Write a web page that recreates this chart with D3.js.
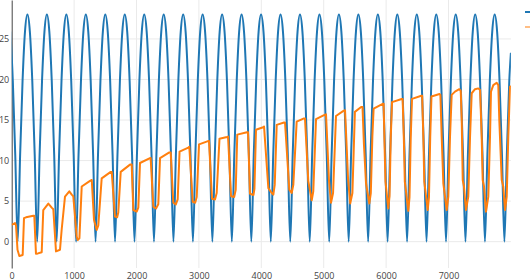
<!doctype html>
<head>
<meta charset="utf-8">
<script src="https://cdn.jsdelivr.net/npm/d3@7/dist/d3.min.js" charset="utf-8"></script>
<style>
body { margin: 0; background: #fff; overflow: hidden; }
text { font-family: "Open Sans", sans-serif; font-size: 9px; fill: #444; }
</style>
</head>
<body>
<script>

// blue series: sampled every 39 steps starting at x = -21 (clipped at 0)
var blueStart = -21, blueStep = 39;
var blueVals = [
  25.9, 19.8, 10.7, 0,
  10.7, 19.8, 25.9, 28, 25.9, 19.8, 10.7, 0,
  10.7, 19.8, 25.9, 28, 25.9, 19.8, 10.7, 0,
  10.7, 19.8, 25.9, 28, 25.9, 19.8, 10.7, 0,
  10.7, 19.8, 25.9, 28, 25.9, 19.8, 10.7, 0,
  10.7, 19.8, 25.9, 28, 25.9, 19.8, 10.7, 0,
  10.7, 19.8, 25.9, 28, 25.9, 19.8, 10.7, 0,
  10.7, 19.8, 25.9, 28, 25.9, 19.8, 10.7, 0,
  10.7, 19.8, 25.9, 28, 25.9, 19.8, 10.7, 0,
  10.7, 19.8, 25.9, 28, 25.9, 19.8, 10.7, 0,
  10.7, 19.8, 25.9, 28, 25.9, 19.8, 10.7, 0,
  10.7, 19.8, 25.9, 28, 25.9, 19.8, 10.7, 0,
  10.7, 19.8, 25.9, 28, 25.9, 19.8, 10.7, 0,
  10.7, 19.8, 25.9, 28, 25.9, 19.8, 10.7, 0,
  10.7, 19.8, 25.9, 28, 25.9, 19.8, 10.7, 0,
  10.7, 19.8, 25.9, 28, 25.9, 19.8, 10.7, 0,
  10.7, 19.8, 25.9, 28, 25.9, 19.8, 10.7, 0,
  10.7, 19.8, 25.9, 28, 25.9, 19.8, 10.7, 0,
  10.7, 19.8, 25.9, 28, 25.9, 19.8, 10.7, 0,
  10.7, 19.8, 25.9, 28, 25.9, 19.8, 10.7, 0,
  10.7, 19.8, 25.9, 28, 25.9, 19.8, 10.7, 0,
  10.7, 19.8, 25.9, 28, 25.9, 19.8, 10.7, 0,
  10.7, 19.8, 25.9, 28, 25.9, 19.8, 10.7, 0,
  10.7, 19.8, 25.9, 28, 25.9, 19.8, 10.7, 0,
  10.7, 19.8, 25.9, 28, 25.9, 19.8, 10.7, 0,
  10.7, 19.8, 25.9, 28, 25.9, 19.8, 10.7, 0,
  10.7, 19.8, 23.3
];

// orange series: [x, y]
var orange = [
  [0, 2.06], [53, 2.3], [69, 2.0], [93, -1.0], [122, -1.76], [150, -1.7], [176, -1.64], [197, 2.9], [230, 3.0], [346, 3.2], [362, 3.2],
  [389, -1.5], [420, -1.45], [481, -1.3], [506, 3.9], [587, 4.7], [641, 4.2],
  [667, 4.0], [710, -1.2], [774, -1.0], [801, 1.5], [854, 5.55], [923, 6.2], [962, 5.8],
  [987, 5.6], [1042, 0.6], [1058, 0.2], [1085, 0.4], [1122, 6.8], [1255, 7.5],
  [1283, 7.6], [1319, 2.7], [1362, 1.44], [1388, 2.0], [1442, 7.8], [1587, 8.6],
  [1603, 8.6], [1655, 3.1], [1690, 3.0], [1708, 3.6], [1747, 8.6], [1896, 9.5],
  [1923, 9.5], [1949, 3.9], [2003, 3.7], [2029, 4.2], [2056, 9.7], [2216, 10.3],
  [2227, 10.3], [2270, 4.3], [2313, 4.1], [2349, 4.6], [2377, 10.3], [2526, 11.0],
  [2548, 11.0], [2590, 4.8], [2630, 4.6], [2660, 5.2], [2690, 11.1], [2830, 11.6],
  [2846, 11.7], [2901, 4.9], [2940, 4.8], [2965, 5.5], [3002, 12.0], [3146, 12.4],
  [3162, 12.4], [3210, 5.3], [3258, 5.2], [3285, 6.0], [3330, 12.7], [3450, 12.9],
  [3467, 12.95], [3515, 5.6], [3565, 5.5], [3590, 6.4], [3615, 13.2], [3770, 13.5],
  [3787, 13.5], [3819, 5.9], [3875, 5.76], [3890, 6.5], [3915, 13.8], [4030, 14.1],
  [4044, 14.2], [4113, 6.6], [4167, 6.0], [4193, 5.8], [4215, 7.0], [4247, 14.4], [4364, 14.7],
  [4380, 14.7], [4449, 6.4], [4487, 6.0], [4513, 7.0], [4567, 14.8], [4684, 15.2],
  [4700, 15.2], [4753, 7.5], [4808, 5.1], [4833, 6.2], [4877, 15.1], [5005, 15.6],
  [5037, 15.7], [5085, 7.5], [5117, 4.8], [5150, 6.0], [5197, 15.5], [5310, 16.1],
  [5342, 16.2], [5390, 7.8], [5425, 4.7], [5460, 6.0], [5500, 16.0], [5600, 16.6],
  [5622, 16.6], [5645, 12.0], [5678, 7.2], [5731, 4.7], [5755, 6.0], [5780, 13.0], [5800, 16.4], [5946, 17.0],
  [5960, 17.0], [5975, 12.0], [5990, 7.4], [6035, 4.1], [6055, 5.6], [6075, 12.9], [6095, 17.2], [6250, 17.6],
  [6265, 17.6], [6285, 12.5], [6300, 7.4], [6356, 3.8], [6375, 5.5], [6395, 12.9], [6415, 17.6], [6565, 18.0],
  [6578, 18.0], [6598, 12.5], [6612, 7.4], [6667, 3.9], [6687, 5.5], [6707, 12.9], [6727, 17.9], [6856, 18.2],
  [6870, 18.1], [6891, 12.9], [6917, 7.2], [6944, 5.55], [6971, 3.9], [6997, 5.55], [7024, 12.9], [7051, 18.1], [7104, 18.5], [7173, 18.8], [7196, 18.6],
  [7212, 15.0], [7228, 7.6], [7248, 6.8], [7280, 3.9], [7317, 5.55], [7345, 12.9], [7372, 18.3], [7425, 18.8], [7478, 18.9], [7506, 18.7],
  [7532, 12.9], [7548, 7.6], [7569, 6.8], [7601, 3.7], [7638, 5.55], [7665, 12.9], [7681, 18.5], [7718, 19.3], [7772, 19.6], [7798, 19.3],
  [7814, 15.0], [7853, 7.6], [7878, 6.8], [7906, 3.9], [7933, 5.55], [7958, 12.9], [7986, 19.1], [8000, 19.2]
];

var xTicks = [0, 1000, 2000, 3000, 4000, 5000, 6000, 7000];
var yTicks = [0, 5, 10, 15, 20, 25];
var seriesColors = ["#1f77b4", "#ff7f0e"];

var W = 530, H = 280;
var plot = {left: 11.7, right: 510.9, top: 0, bottom: 268};

var x = d3.scaleLinear().domain([0, 8000]).range([plot.left, plot.right]);
var y = d3.scaleLinear().domain([-3.25, 29.8]).range([plot.bottom, plot.top]);

var svg = d3.select("body").append("svg")
  .attr("width", W)
  .attr("height", H);

svg.append("clipPath").attr("id", "clip")
  .append("rect")
  .attr("x", plot.left).attr("y", -10)
  .attr("width", plot.right - plot.left).attr("height", H + 20);

// grid
svg.append("g").selectAll("line").data(yTicks).enter().append("line")
  .attr("x1", plot.left).attr("x2", plot.right)
  .attr("y1", d => y(d)).attr("y2", d => y(d))
  .style("stroke", "#eaeaea").style("stroke-width", 1);
svg.append("g").selectAll("line").data(xTicks.slice(1)).enter().append("line")
  .attr("x1", d => x(d)).attr("x2", d => x(d))
  .attr("y1", plot.top).attr("y2", plot.bottom)
  .style("stroke", "#eaeaea").style("stroke-width", 1);

// axes
var yAxis = svg.append("g")
  .attr("transform", "translate(" + plot.left + ",0)")
  .call(d3.axisLeft(y).tickValues(yTicks).tickSize(0).tickPadding(2.5));
yAxis.select(".domain").style("stroke", "#444").style("stroke-width", 1);
yAxis.selectAll("text").style("font-family", "'Open Sans', sans-serif").style("font-size", "9px").style("fill", "#444");

var xAxis = svg.append("g")
  .attr("transform", "translate(0," + plot.bottom + ")")
  .call(d3.axisBottom(x).tickValues(xTicks).tickFormat(d3.format("d")).tickSize(0).tickPadding(4.5));
xAxis.select(".domain").remove();
xAxis.selectAll("text").style("font-family", "'Open Sans', sans-serif").style("font-size", "9px").style("fill", "#444");

// lines
var blue = blueVals.map((v, i) => [blueStart + i * blueStep, v]);
blue[blue.length - 1][0] = 8000;

var lines = svg.append("g").attr("clip-path", "url(#clip)");
lines.append("path")
  .attr("d", d3.line().x(d => x(d[0])).y(d => y(d[1])).curve(d3.curveMonotoneX)(blue))
  .style("fill", "none")
  .style("stroke", seriesColors[0])
  .style("stroke-width", 2);
lines.append("path")
  .attr("d", d3.line().x(d => x(d[0])).y(d => y(d[1]))(orange))
  .style("fill", "none")
  .style("stroke", seriesColors[1])
  .style("stroke-width", 2)
  .style("stroke-linejoin", "round");

// legend (cut off at the right edge)
var legend = svg.append("g").attr("transform", "translate(525,0)");
seriesColors.forEach((c, i) => {
  legend.append("line")
    .attr("x1", 0).attr("x2", 20)
    .attr("y1", 12 + 15 * i).attr("y2", 12 + 15 * i)
    .style("stroke", c)
    .style("stroke-width", 2)
    .style("opacity", i == 1 ? 0.5 : 1);
});

</script>
</body>
</html>
